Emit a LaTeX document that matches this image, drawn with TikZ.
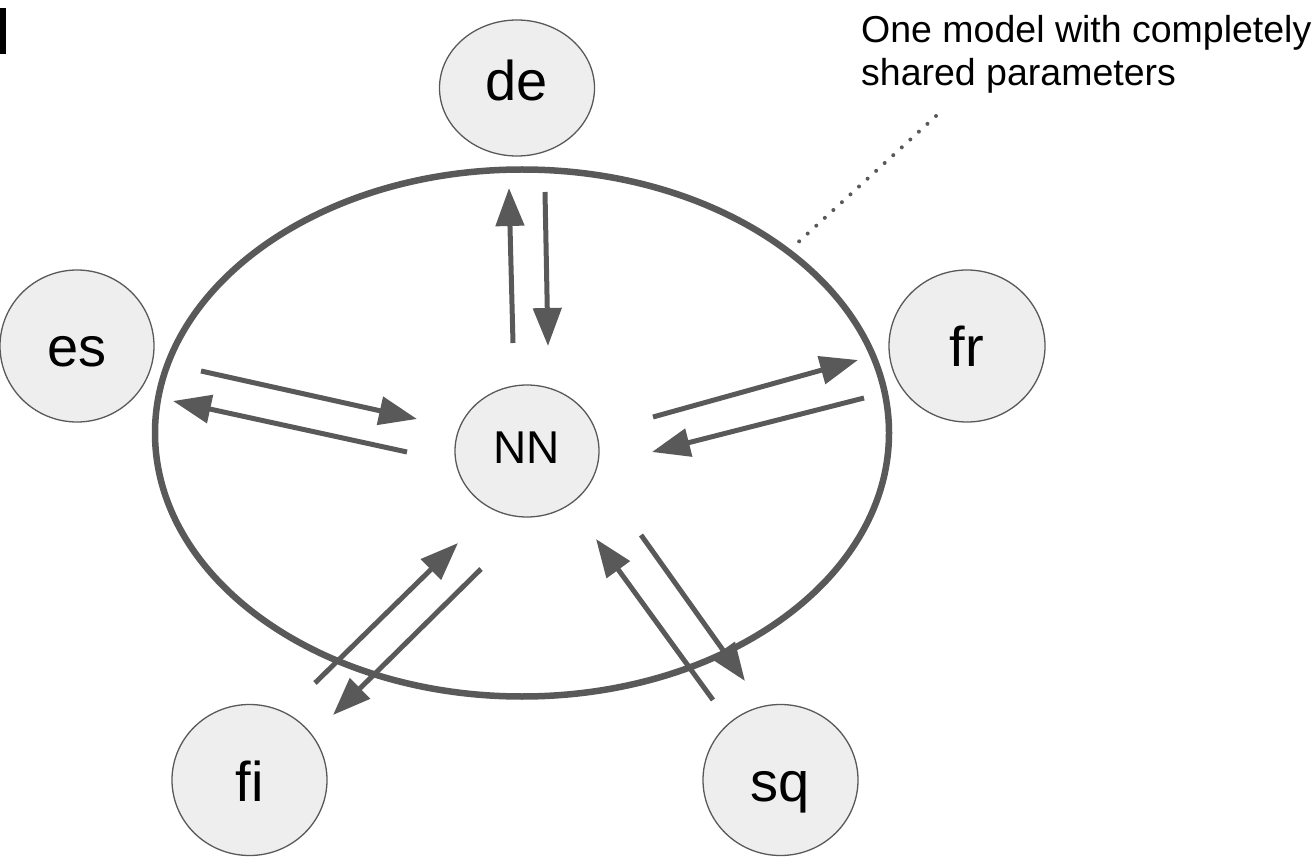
\documentclass[tikz,border=0pt]{standalone}
\usepackage{fontspec}
\setmainfont{Liberation Sans}
\usetikzlibrary{shapes.geometric,arrows.meta}
\definecolor{linegray}{HTML}{595959}
\definecolor{nodefill}{HTML}{EEEEEE}
\begin{document}
\begin{tikzpicture}[x=1pt,y=-1pt,
  lang/.style={ellipse, draw=linegray, line width=1.3pt, fill=nodefill,
    inner sep=0pt, outer sep=0pt, font=\fontsize{56}{60}\selectfont,
    text height=42pt, text depth=0pt},
  flow/.style={draw=linegray, line width=5pt,
    -{Triangle[length=38pt,width=28pt]}},
  note/.style={anchor=base west, align=left, inner sep=0pt,
    font=\fontsize{37.5}{43}\selectfont},
]
\useasboundingbox (0,0) rectangle (1312,858);

% small black mark at the left edge
\node[fill=black, minimum width=6pt, minimum height=46pt, inner sep=0pt,
  anchor=north west] (mark) at (0,8) {};

% shared model boundary
\node[ellipse, draw=linegray, line width=6.5pt, minimum width=734pt,
  minimum height=527pt, inner sep=0pt] (model) at (522,433) {};

% language nodes
\node[lang, minimum width=155pt, minimum height=136pt,
  text height=26pt] (de) at (517,88) {de};
\node[lang, minimum width=154pt, minimum height=152pt] (es) at (77,346) {es};
\node[lang, minimum width=156pt, minimum height=152pt] (fr) at (967,346) {fr};
\node[lang, minimum width=155pt, minimum height=151pt] (fi) at (249.5,780) {fi};
\node[lang, minimum width=155pt, minimum height=151pt] (sq) at (780.5,780) {sq};
\node[lang, minimum width=144pt, minimum height=132pt,
  font=\fontsize{46}{50}\selectfont, text height=26pt] (nn) at (527,451) {NN};

% annotation
\node[note] (label) at (861,86) {One model with completely\\shared parameters};
\coordinate (labelfoot) at (936,116);
\coordinate (modelrim) at (793,247);
\draw[linegray, line width=4pt, line cap=round,
  dash pattern=on 0pt off 11.6pt] (labelfoot) -- (modelrim);

% arrow end points
\coordinate (deA1) at (513,343);   \coordinate (deA2) at (509,188);
\coordinate (deB1) at (545,192);   \coordinate (deB2) at (548,346);
\coordinate (esA1) at (201,371);   \coordinate (esA2) at (417,419);
\coordinate (esB1) at (407,452);   \coordinate (esB2) at (173,401);
\coordinate (frA1) at (653,417);   \coordinate (frA2) at (858,360);
\coordinate (frB1) at (864,398);   \coordinate (frB2) at (652,452);
\coordinate (fiA1) at (315,683);   \coordinate (fiA2) at (458,543);
\coordinate (fiB1) at (481,569);   \coordinate (fiB2) at (333,715);
\coordinate (sqA1) at (713,700);   \coordinate (sqA2) at (596,539);
\coordinate (sqB1) at (641,535);   \coordinate (sqB2) at (745,681);

% exchanges between the languages and the model
\draw[flow] (deA1) -- (deA2);
\draw[flow] (deB1) -- (deB2);
\draw[flow] (esA1) -- (esA2);
\draw[flow] (esB1) -- (esB2);
\draw[flow] (frA1) -- (frA2);
\draw[flow] (frB1) -- (frB2);
\draw[flow] (fiA1) -- (fiA2);
\draw[flow] (fiB1) -- (fiB2);
\draw[flow] (sqA1) -- (sqA2);
\draw[flow] (sqB1) -- (sqB2);
\end{tikzpicture}
\end{document}
